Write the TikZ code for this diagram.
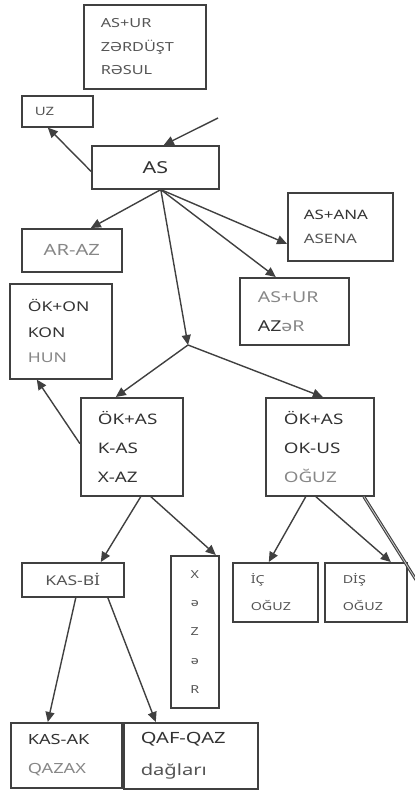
\documentclass[tikz,border=0pt]{standalone}
\usepackage{fontspec}
\setmainfont{Noto Sans}[FakeStretch=1.3]
\usetikzlibrary{arrows.meta}
\definecolor{ln}{HTML}{404040}
\definecolor{tdark}{HTML}{333333}
\definecolor{tmid}{HTML}{555555}
\definecolor{tlight}{HTML}{878787}
\newcommand{\fs}[2]{\fontsize{#1}{#2}\selectfont}
\tikzset{
  bx/.style={draw=ln, line width=1.6pt, anchor=north west, inner ysep=0pt, align=left, text=tdark},
  bxc/.style={draw=ln, line width=1.6pt, anchor=north west, inner sep=0pt, align=center, text=tdark},
  arr/.style={draw=ln, line width=1.4pt, -{Triangle[length=10pt,width=9pt]}},
  ln/.style={draw=ln, line width=1.4pt},
}
\begin{document}
\begin{tikzpicture}[x=1pt,y=-1pt]
\useasboundingbox (0,0) rectangle (415,790);
% boxes
\node[bx, minimum width=122pt, minimum height=84pt, text width=88pt, inner xsep=17pt, text=tmid, font=\fs{12.5}{23.5}] (top) at (83,4)
  {AS+UR\\ZƏRDÜŞT\\RƏSUL};
\node[bx, minimum width=71pt, minimum height=31pt, text width=45pt, inner xsep=13pt, text=tmid, font=\fs{11.5}{14}] (uz) at (21,95)
  {UZ};
\node[bxc, minimum width=127pt, minimum height=43pt, font=\fs{16.5}{20}] (as) at (91,145)
  {AS};
\node[bxc, minimum width=100pt, minimum height=43pt, text=tlight, font=\fs{15.5}{20}] (araz) at (21,228)
  {AR-AZ};
\node[bx, minimum width=105pt, minimum height=68pt, text width=73pt, inner xsep=16pt, font=\fs{13}{24}] (asana) at (287,192)
  {AS+ANA\\\textcolor{tmid}{ASENA}};
\node[bx, minimum width=109pt, minimum height=67pt, text width=73pt, inner xsep=18pt, text=tlight, font=\fs{15}{29}] (asur) at (239,277)
  {AS+UR\\\textcolor{tdark}{\bfseries AZ}əR};
\node[bx, minimum width=102pt, minimum height=95pt, text width=66pt, inner xsep=18pt, font=\fs{13.5}{25.5}] (okon) at (9,283)
  {ÖK+ON\\KON\\\textcolor{tlight}{HUN}};
\node[bx, minimum width=102pt, minimum height=98pt, text width=68pt, inner xsep=17pt, font=\fs{14.5}{29}] (okasl) at (80,397)
  {ÖK+AS\\K-AS\\X-AZ};
\node[bx, minimum width=108pt, minimum height=98pt, text width=72pt, inner xsep=18pt, font=\fs{14.5}{29}] (okasr) at (265,397)
  {ÖK+AS\\OK-US\\\textcolor{tlight}{OĞUZ}};
\node[bxc, minimum width=102pt, minimum height=34pt, text=tmid, font=\fs{13.5}{16}] (kasbi) at (21,562)
  {KAS-Bİ};
\node[bxc, minimum width=48pt, minimum height=152pt, text=tmid, font=\fs{11}{28.8}] (xezer) at (170,555)
  {X\\ə\\Z\\ə\\R};
\node[bx, minimum width=85pt, minimum height=59pt, text width=49pt, inner xsep=18pt, text=tmid, font=\fs{11}{27}] (ic) at (232,562)
  {İÇ\\OĞUZ};
\node[bx, minimum width=82pt, minimum height=59pt, text width=46pt, inner xsep=18pt, text=tmid, font=\fs{11}{27}] (dis) at (324,562)
  {DİŞ\\OĞUZ};
\node[bx, minimum width=111pt, minimum height=65pt, text width=77pt, inner xsep=17pt, font=\fs{14}{29}] (kasak) at (10,722)
  {KAS-AK\\\textcolor{tlight}{QAZAX}};
\node[bx, minimum width=134pt, minimum height=66pt, text width=100pt, inner xsep=17pt, font=\fs{15.5}{32}] (qaf) at (123,722)
  {QAF-QAZ\\\textcolor{tmid}{dağları}};
% free ends and junction
\coordinate (in) at (218,118);
\coordinate (jn) at (188,345);
\coordinate (out) at (418,583);
% connectors
\draw[arr] (in) -- ([xshift=8.5pt]as.north);
\draw[arr] ([yshift=-4pt]as.west) -- ([xshift=-9.5pt]uz.south);
\draw[arr] ([xshift=5.5pt]as.south) -- ([xshift=19pt]araz.north);
\draw[arr] ([xshift=5.5pt]as.south) -- ([yshift=-17pt]asana.west);
\draw[arr] ([xshift=5.5pt]as.south) -- ([xshift=-18.5pt]asur.north);
\draw[arr] ([xshift=5.5pt]as.south) -- (jn);
\draw[arr] (jn) -- ([xshift=-16pt]okasl.north);
\draw[arr] (jn) -- ([xshift=3pt]okasr.north);
\draw[arr] ([yshift=3pt]okasl.west) -- ([xshift=-24pt]okon.south);
\draw[arr] ([xshift=9pt]okasl.south) -- ([xshift=28pt]kasbi.north);
\draw[arr] ([xshift=19pt]okasl.south) -- ([xshift=21pt]xezer.north);
\draw[arr] ([xshift=-14pt]okasr.south) -- ([xshift=-6.5pt]ic.north);
\draw[arr] ([xshift=-4pt]okasr.south) -- ([xshift=25pt]dis.north);
\draw[ln, double=white!80!black, double distance=0.8pt, line width=1.1pt] ([xshift=44pt]okasr.south) -- (out);
\draw[arr] ([xshift=3pt]kasbi.south) -- ([xshift=-18.5pt]kasak.north);
\draw[arr] ([xshift=35pt]kasbi.south) -- ([xshift=-35pt]qaf.north);
\end{tikzpicture}
\end{document}
